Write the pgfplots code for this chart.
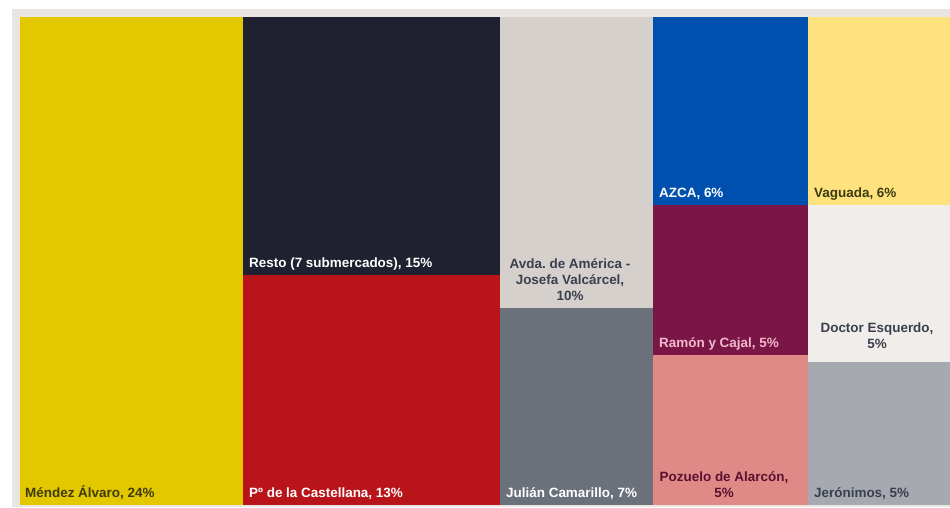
\documentclass[border=0pt]{standalone}
\usepackage{pgfplots}
\pgfplotsset{compat=1.18}
\usepackage{fontspec}
\setmainfont{Liberation Sans}
\frenchspacing
\definecolor{cBg}{HTML}{E9E5E0}
\definecolor{cMendez}{HTML}{E3C800}
\definecolor{cResto}{HTML}{1F2030}
\definecolor{cCast}{HTML}{B8141A}
\definecolor{cAvda}{HTML}{D6D0CC}
\definecolor{cJulian}{HTML}{6B717B}
\definecolor{cAzca}{HTML}{0050B0}
\definecolor{cRamon}{HTML}{7A1645}
\definecolor{cPozuelo}{HTML}{E08A88}
\definecolor{cVaguada}{HTML}{FDE27E}
\definecolor{cDoctor}{HTML}{F0EDEA}
\definecolor{cJeron}{HTML}{A6A9AF}
\definecolor{tDark}{HTML}{3A3F4E}
\definecolor{tOlive}{HTML}{3E3A10}
\definecolor{tPink}{HTML}{F2B8CC}
\definecolor{tMaroon}{HTML}{5A1030}
\tikzset{lbl/.style={font=\fontsize{13.5}{16}\selectfont\bfseries, inner sep=0pt}}
\begin{document}
\begin{tikzpicture}[x=1bp,y=1bp]
\begin{axis}[
  scale only axis, width=950bp, height=507bp,
  xmin=0, xmax=950, ymin=0, ymax=507, y dir=reverse,
  hide axis, clip=false,
  every axis plot/.append style={draw=none},
]
% page and background frame
\addplot[fill=white] coordinates {(0,0) (950,0) (950,507) (0,507)} --cycle;
\addplot[fill=cBg] coordinates {(12,9) (950,9) (950,507) (12,507)} --cycle;
% tiles
\addplot[fill=cMendez]  coordinates {(20,17) (243,17) (243,505) (20,505)} --cycle;
\addplot[fill=cResto]   coordinates {(243,17) (500,17) (500,275) (243,275)} --cycle;
\addplot[fill=cCast]    coordinates {(243,275) (500,275) (500,505) (243,505)} --cycle;
\addplot[fill=cAvda]    coordinates {(500,17) (653,17) (653,308) (500,308)} --cycle;
\addplot[fill=cJulian]  coordinates {(500,308) (653,308) (653,505) (500,505)} --cycle;
\addplot[fill=cAzca]    coordinates {(653,17) (808,17) (808,205) (653,205)} --cycle;
\addplot[fill=cRamon]   coordinates {(653,205) (808,205) (808,355) (653,355)} --cycle;
\addplot[fill=cPozuelo] coordinates {(653,355) (808,355) (808,505) (653,505)} --cycle;
\addplot[fill=cVaguada] coordinates {(808,17) (950,17) (950,205) (808,205)} --cycle;
\addplot[fill=cDoctor]  coordinates {(808,205) (950,205) (950,362) (808,362)} --cycle;
\addplot[fill=cJeron]   coordinates {(808,362) (950,362) (950,505) (808,505)} --cycle;
% labels
\node[lbl, anchor=base west, text=tOlive] at (axis cs:25,497) {Méndez Álvaro, 24\%};
\node[lbl, anchor=base west, text=white] at (axis cs:249,267) {Resto (7 submercados), 15\%};
\node[lbl, anchor=base west, text=white] at (axis cs:249,497) {Pº de la Castellana, 13\%};
\node[lbl, anchor=south, align=center, text=tDark] at (axis cs:570,301) {Avda.\ de América -\\Josefa Valcárcel,\\10\%};
\node[lbl, anchor=base west, text=white] at (axis cs:506,497) {Julián Camarillo, 7\%};
\node[lbl, anchor=base west, text=white] at (axis cs:659,197) {AZCA, 6\%};
\node[lbl, anchor=base west, text=tPink] at (axis cs:659,347) {Ramón y Cajal, 5\%};
\node[lbl, anchor=south, align=center, text=tMaroon] at (axis cs:724,498) {Pozuelo de Alarcón,\\5\%};
\node[lbl, anchor=base west, text=tOlive] at (axis cs:814,197) {Vaguada, 6\%};
\node[lbl, anchor=south, align=center, text=tDark] at (axis cs:877,349) {Doctor Esquerdo,\\5\%};
\node[lbl, anchor=base west, text=tDark] at (axis cs:814,497) {Jerónimos, 5\%};
\end{axis}
\end{tikzpicture}
\end{document}
